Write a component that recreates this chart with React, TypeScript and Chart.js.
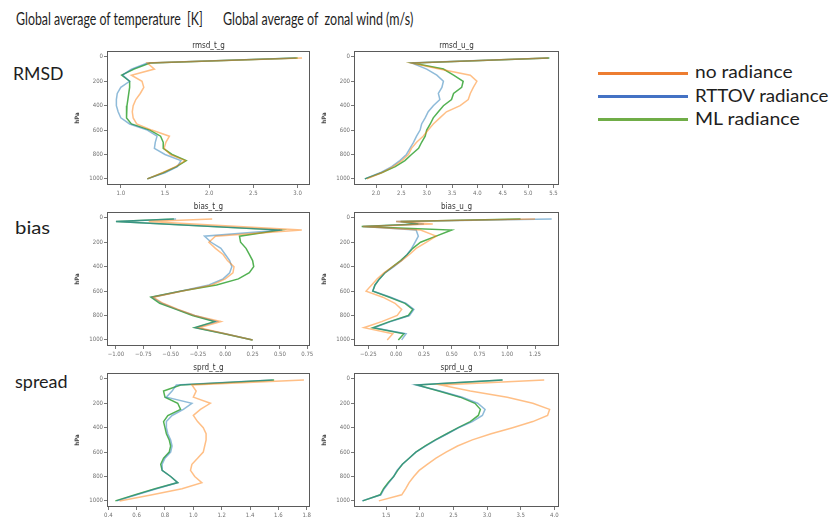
import React, { useEffect, useLayoutEffect, useRef, useState } from 'react';
import { Chart, registerables } from 'chart.js';

Chart.register(...registerables);

// ---------------- data ----------------
const SERIES = ['no radiance', 'RTTOV radiance', 'ML radiance'];

const LEVELS_STD = [10, 50, 100, 150, 200, 250, 300, 350, 400, 450, 500, 550, 600, 650, 700, 750, 800, 850, 900, 950, 1000];
const LEVELS_BIAS_T = [10, 30, 100, 150, 200, 250, 300, 350, 400, 450, 500, 550, 600, 650, 700, 750, 800, 850, 900, 950, 1000];
const LEVELS_BIAS_U = [10, 30, 50, 70, 100, 150, 200, 250, 300, 350, 400, 450, 500, 550, 600, 650, 700, 750, 800, 850, 900, 950, 1000];

const RMSD_T_NO = [3.05, 1.30, 1.38, 1.12, 1.24, 1.26, 1.22, 1.17, 1.14, 1.13, 1.14, 1.18, 1.35, 1.55, 1.51, 1.49, 1.56, 1.73, 1.62, 1.47, 1.30];
const RMSD_T_RT = [2.98, 1.30, 1.12, 1.02, 1.10, 1.00, 0.96, 0.95, 0.95, 0.97, 1.00, 1.10, 1.30, 1.41, 1.39, 1.38, 1.50, 1.68, 1.64, 1.50, 1.30];
const RMSD_T_ML = [3.00, 1.33, 1.15, 1.01, 1.10, 1.10, 1.09, 1.08, 1.07, 1.06, 1.07, 1.12, 1.33, 1.45, 1.48, 1.48, 1.58, 1.74, 1.63, 1.48, 1.30];

const RMSD_U_NO = [5.40, 2.70, 3.25, 3.86, 3.99, 3.92, 3.86, 3.82, 3.66, 3.39, 3.26, 3.13, 3.03, 2.93, 2.80, 2.70, 2.64, 2.51, 2.34, 2.11, 1.82];
const RMSD_U_RT = [5.40, 2.70, 3.00, 3.20, 3.33, 3.30, 3.23, 3.26, 3.13, 3.03, 2.97, 2.90, 2.87, 2.80, 2.74, 2.67, 2.60, 2.47, 2.31, 2.08, 1.78];
const RMSD_U_ML = [5.42, 2.72, 3.33, 3.53, 3.72, 3.69, 3.53, 3.49, 3.33, 3.23, 3.13, 3.07, 3.00, 2.97, 2.90, 2.84, 2.70, 2.57, 2.38, 2.11, 1.78];

const BIAS_T_NO = [-0.12, -0.70, 0.70, -0.09, -0.15, -0.09, -0.02, 0.02, 0.08, 0.07, 0.00, -0.12, -0.39, -0.66, -0.57, -0.43, -0.28, -0.04, -0.24, 0.00, 0.25];
const BIAS_T_RT = [-0.45, -1.00, 0.52, -0.19, -0.13, -0.04, 0.00, 0.04, 0.06, 0.04, -0.02, -0.15, -0.40, -0.67, -0.58, -0.44, -0.28, -0.08, -0.27, 0.00, 0.25];
const BIAS_T_ML = [-0.47, -1.00, 0.50, 0.13, 0.14, 0.19, 0.22, 0.25, 0.26, 0.22, 0.12, -0.08, -0.40, -0.68, -0.60, -0.45, -0.30, -0.10, -0.28, -0.01, 0.25];

const BIAS_U_NO = [1.25, 0.00, 0.33, -0.30, 0.22, 0.36, 0.27, 0.18, 0.12, 0.05, -0.03, -0.11, -0.17, -0.22, -0.27, -0.12, -0.01, 0.05, 0.01, -0.13, -0.29, -0.03, -0.08];
const BIAS_U_RT = [1.40, 0.00, 0.25, -0.30, 0.18, 0.20, 0.17, 0.14, 0.10, 0.05, -0.02, -0.10, -0.15, -0.19, -0.21, -0.05, 0.09, 0.16, 0.12, -0.05, -0.20, 0.09, 0.05];
const BIAS_U_ML = [1.12, 0.04, 0.20, -0.31, 0.50, 0.36, 0.22, 0.15, 0.10, 0.04, -0.03, -0.10, -0.15, -0.19, -0.21, -0.06, 0.08, 0.15, 0.11, -0.06, -0.21, 0.07, 0.02];

const SPRD_T_NO = [1.78, 0.99, 1.02, 1.00, 1.12, 1.05, 1.00, 1.03, 1.07, 1.09, 1.09, 1.08, 1.07, 1.03, 0.99, 0.98, 1.01, 1.06, 0.92, 0.71, 0.48];
const SPRD_T_RT = [1.56, 0.88, 0.85, 0.81, 0.99, 0.93, 0.85, 0.81, 0.81, 0.82, 0.84, 0.85, 0.84, 0.80, 0.78, 0.78, 0.84, 0.89, 0.74, 0.60, 0.46];
const SPRD_T_ML = [1.57, 0.91, 0.79, 0.80, 0.89, 0.91, 0.82, 0.79, 0.80, 0.81, 0.83, 0.84, 0.83, 0.79, 0.77, 0.78, 0.84, 0.89, 0.73, 0.59, 0.45];

const SPRD_U_NO = [3.85, 2.31, 2.75, 3.30, 3.68, 3.93, 3.90, 3.68, 3.38, 3.06, 2.78, 2.56, 2.39, 2.24, 2.11, 1.99, 1.91, 1.84, 1.79, 1.73, 1.39];
const SPRD_U_RT = [3.23, 1.94, 2.30, 2.63, 2.86, 2.97, 2.93, 2.78, 2.58, 2.41, 2.24, 2.09, 1.94, 1.84, 1.74, 1.66, 1.61, 1.54, 1.47, 1.42, 1.14];
const SPRD_U_ML = [3.23, 1.96, 2.28, 2.60, 2.82, 2.90, 2.87, 2.75, 2.57, 2.40, 2.23, 2.08, 1.94, 1.84, 1.74, 1.67, 1.61, 1.53, 1.46, 1.41, 1.15];

const Y_LABELS = ['0', '200', '400', '600', '800', '1000'];
const X_LABELS_RMSD_T = ['1.0', '1.5', '2.0', '2.5', '3.0'];
const X_LABELS_RMSD_U = ['2.0', '2.5', '3.0', '3.5', '4.0', '4.5', '5.0', '5.5'];
const X_LABELS_BIAS_T = ['−1.00', '−0.75', '−0.50', '−0.25', '0.00', '0.25', '0.50', '0.75'];
const X_LABELS_BIAS_U = ['−0.25', '0.00', '0.25', '0.50', '0.75', '1.00', '1.25'];
const X_LABELS_SPRD_T = ['0.4', '0.6', '0.8', '1.0', '1.2', '1.4', '1.6', '1.8'];
const X_LABELS_SPRD_U = ['1.5', '2.0', '2.5', '3.0', '3.5', '4.0'];

// ---------------- styles ----------------
const LINE_COLORS = ['rgba(255,127,14,0.5)', 'rgba(31,119,180,0.5)', 'rgba(44,160,44,0.82)'];
const LEGEND_COLORS = ['#ED7D31', '#4472C4', '#70AD47'];
const SMALL_FONT = '"DejaVu Sans Condensed", "Liberation Sans Narrow", "DejaVu Sans", sans-serif';
const TEXT_FONT = 'Lato, "Open Sans", sans-serif';

const Y_AXIS_W = 33;
const TITLE_H = 14;
const X_AXIS_H = 14;
const PAD_R = 16;
const Y_MIN = -48;
const Y_MAX = 1050;

type PanelCfg = {
  title: string;
  levels: number[];
  series: number[][];
  xLabels: string[];
  xMin: number;
  xMax: number;
  left: number;
  top: number;
  width: number;
  height: number;
};

const PANELS: PanelCfg[] = [
  { title: 'rmsd_t_g', levels: LEVELS_STD, series: [RMSD_T_NO, RMSD_T_RT, RMSD_T_ML], xLabels: X_LABELS_RMSD_T, xMin: 0.844, xMax: 3.14, left: 107, top: 51, width: 203, height: 134 },
  { title: 'rmsd_u_g', levels: LEVELS_STD, series: [RMSD_U_NO, RMSD_U_RT, RMSD_U_ML], xLabels: X_LABELS_RMSD_U, xMin: 1.566, xMax: 5.61, left: 354, top: 51, width: 205, height: 134 },
  { title: 'bias_t_g', levels: LEVELS_BIAS_T, series: [BIAS_T_NO, BIAS_T_RT, BIAS_T_ML], xLabels: X_LABELS_BIAS_T, xMin: -1.082, xMax: 0.775, left: 107, top: 212, width: 203, height: 134 },
  { title: 'bias_u_g', levels: LEVELS_BIAS_U, series: [BIAS_U_NO, BIAS_U_RT, BIAS_U_ML], xLabels: X_LABELS_BIAS_U, xMin: -0.379, xMax: 1.466, left: 354, top: 212, width: 205, height: 134 },
  { title: 'sprd_t_g', levels: LEVELS_STD, series: [SPRD_T_NO, SPRD_T_RT, SPRD_T_ML], xLabels: X_LABELS_SPRD_T, xMin: 0.391, xMax: 1.823, left: 107, top: 373, width: 203, height: 134 },
  { title: 'sprd_u_g', levels: LEVELS_STD, series: [SPRD_U_NO, SPRD_U_RT, SPRD_U_ML], xLabels: X_LABELS_SPRD_U, xMin: 1.02, xMax: 4.07, left: 354, top: 373, width: 205, height: 134 },
];

const toNum = (s: string) => parseFloat(s.replace('−', '-'));

const framePlugin = (title: string) => ({
  id: 'frameAndTitle',
  afterDraw(chart: any) {
    const { ctx, chartArea } = chart;
    const { left, top, right, bottom } = chartArea;
    ctx.save();
    ctx.strokeStyle = '#5a5a5a';
    ctx.lineWidth = 1;
    ctx.strokeRect(left + 0.5, top + 0.5, right - left - 1, bottom - top - 1);
    ctx.fillStyle = '#333';
    ctx.font = `8px ${SMALL_FONT}`;
    ctx.textAlign = 'center';
    ctx.textBaseline = 'bottom';
    ctx.fillText(title, (left + right) / 2, top - 1);
    ctx.restore();
  },
});

function Panel({ cfg }: { cfg: PanelCfg }) {
  const ref = useRef<HTMLCanvasElement>(null);
  const cw = Y_AXIS_W + cfg.width + PAD_R;
  const ch = TITLE_H + cfg.height + X_AXIS_H;

  useEffect(() => {
    const xVals = cfg.xLabels.map(toNum);
    const yVals = Y_LABELS.map(toNum);
    const tickFont = { family: SMALL_FONT, size: 6 };
    const chart = new Chart(ref.current as HTMLCanvasElement, {
      type: 'scatter',
      data: {
        datasets: cfg.series.map((vals, i) => ({
          label: SERIES[i],
          data: vals.map((v, k) => ({ x: v, y: cfg.levels[k] })),
          showLine: true,
          borderColor: LINE_COLORS[i],
          backgroundColor: LINE_COLORS[i],
          borderWidth: 1.5,
          pointRadius: 0,
          tension: 0,
          fill: false,
        })),
      },
      options: {
        animation: false,
        responsive: false,
        maintainAspectRatio: false,
        events: [],
        layout: { padding: { top: TITLE_H, right: PAD_R, left: 0, bottom: 0 } },
        plugins: { legend: { display: false }, tooltip: { enabled: false }, title: { display: false } },
        scales: {
          x: {
            type: 'linear',
            position: 'bottom',
            min: cfg.xMin,
            max: cfg.xMax,
            border: { display: false },
            grid: { display: true, drawOnChartArea: false, drawTicks: true, tickLength: 3, color: '#555', lineWidth: 0.8 },
            ticks: {
              font: tickFont,
              color: '#707070',
              padding: 2,
              maxRotation: 0,
              autoSkip: false,
              callback: (_v: any, idx: number) => cfg.xLabels[idx],
            },
            afterBuildTicks: (s: any) => {
              s.ticks = xVals.map((v) => ({ value: v }));
            },
            afterFit: (s: any) => {
              s.height = X_AXIS_H;
              s.paddingLeft = 0;
              s.paddingRight = 0;
            },
          },
          y: {
            type: 'linear',
            reverse: true,
            min: Y_MIN,
            max: Y_MAX,
            border: { display: false },
            grid: { display: true, drawOnChartArea: false, drawTicks: true, tickLength: 3, color: '#555', lineWidth: 0.8 },
            title: { display: true, text: 'hPa', font: { family: SMALL_FONT, size: 6, weight: 'bold' }, color: '#444', padding: 0 },
            ticks: {
              font: tickFont,
              color: '#707070',
              padding: 1,
              autoSkip: false,
              callback: (_v: any, idx: number) => Y_LABELS[idx],
            },
            afterBuildTicks: (s: any) => {
              s.ticks = yVals.map((v) => ({ value: v }));
            },
            afterFit: (s: any) => {
              s.width = Y_AXIS_W;
              s.paddingTop = 0;
              s.paddingBottom = 0;
            },
          },
        },
      } as any,
      plugins: [framePlugin(cfg.title)],
    } as any);
    return () => chart.destroy();
  }, [cfg]);

  return (
    <canvas
      ref={ref}
      width={cw}
      height={ch}
      style={{ position: 'absolute', left: cfg.left - Y_AXIS_W, top: cfg.top - TITLE_H, width: cw, height: ch, display: 'block' }}
    />
  );
}

function FitText({ text, x, baseline, width, size, weight = 400, color = '#1e1e1e' }: {
  text: string; x: number; baseline: number; width: number; size: number; weight?: number; color?: string;
}) {
  const ref = useRef<HTMLSpanElement>(null);
  const [sx, setSx] = useState(1);
  useLayoutEffect(() => {
    const el = ref.current;
    if (!el) return;
    const measure = () => {
      const w = el.offsetWidth;
      if (w > 0) setSx(width / w);
    };
    measure();
    if ((document as any).fonts && (document as any).fonts.ready) (document as any).fonts.ready.then(measure);
  }, [text, width]);
  return (
    <span
      ref={ref}
      style={{
        position: 'absolute',
        left: x,
        top: baseline - 0.887 * size,
        fontFamily: TEXT_FONT,
        fontSize: size,
        lineHeight: `${size}px`,
        fontWeight: weight,
        whiteSpace: 'pre',
        color,
        transform: `scaleX(${sx})`,
        transformOrigin: '0 0',
      }}
    >
      {text}
    </span>
  );
}

const LEGEND_ROWS = [
  { y: 73, baseline: 78, width: 98 },
  { y: 96, baseline: 101.5, width: 133 },
  { y: 119, baseline: 125, width: 105 },
];

export default function App() {
  return (
    <div style={{ position: 'fixed', left: 0, top: 0, width: 834, height: 518, background: '#fff', overflow: 'hidden' }}>
      <FitText text="Global average of temperature  [K]" x={16} baseline={25} width={187} size={17} />
      <FitText text="Global average of  zonal wind (m/s)" x={223} baseline={25} width={190} size={17} />
      <FitText text="RMSD" x={13} baseline={80} width={50} size={18} />
      <FitText text="bias" x={15} baseline={234} width={35} size={18} />
      <FitText text="spread" x={15} baseline={388} width={53} size={18} />
      {PANELS.map((p) => (
        <Panel key={p.title} cfg={p} />
      ))}
      {SERIES.map((name, i) => (
        <React.Fragment key={name}>
          <div style={{ position: 'absolute', left: 598, top: LEGEND_ROWS[i].y - 1.5, width: 90, height: 3, background: LEGEND_COLORS[i] }} />
          <FitText text={name} x={695} baseline={LEGEND_ROWS[i].baseline} width={LEGEND_ROWS[i].width} size={18} />
        </React.Fragment>
      ))}
    </div>
  );
}
